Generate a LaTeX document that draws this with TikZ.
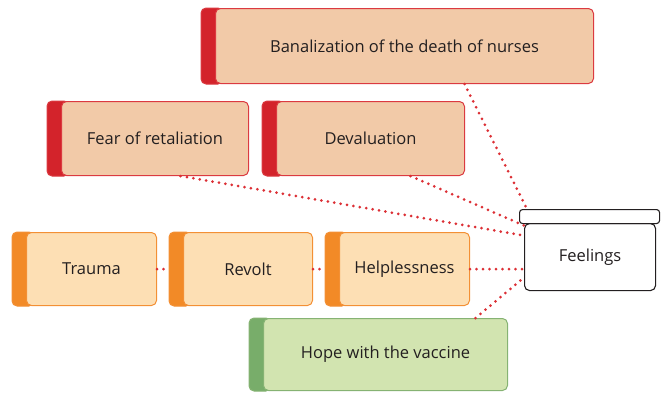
\documentclass[tikz,border=0pt]{standalone}
\usepackage{fontspec}
\setmainfont{Open Sans}
\usetikzlibrary{backgrounds}

\definecolor{redfill}{HTML}{F2CAA8}
\definecolor{redline}{HTML}{DB3A40}
\definecolor{redstrip}{HTML}{D3232B}
\definecolor{orangefill}{HTML}{FDDFB4}
\definecolor{orangeline}{HTML}{F39035}
\definecolor{orangestrip}{HTML}{F28A27}
\definecolor{greenfill}{HTML}{D2E4B0}
\definecolor{greenline}{HTML}{86B373}
\definecolor{greenstrip}{HTML}{78AD6A}
\definecolor{dotred}{HTML}{DC2F35}
\definecolor{ink}{HTML}{231F20}

\tikzset{
  catbox/.style n args={4}{draw=#1, fill=#2, line width=1pt, rounded corners=5pt,
    anchor=north west, minimum width=#3, minimum height=#4, inner sep=0pt,
    text=ink, font=\fontsize{16.5}{19}\selectfont},
  redbox/.style 2 args={catbox={redline}{redfill}{#1}{#2}},
  orangebox/.style 2 args={catbox={orangeline}{orangefill}{#1}{#2}},
  greenbox/.style 2 args={catbox={greenline}{greenfill}{#1}{#2}},
  lidbox/.style={draw=ink, fill=white, line width=1.1pt, rounded corners=3pt,
    anchor=north west, inner sep=0pt},
  link/.style={draw=dotred, line width=3pt, line cap=round, dash pattern=on 0pt off 6.5pt}
}

\begin{document}
\begin{tikzpicture}[x=1pt,y=-1pt]
  \useasboundingbox (0,0) rectangle (661,392);

  % category boxes
  \node[redbox={378pt}{75pt}] (banal) at (215,8) {Banalization of the death of nurses};
  \node[redbox={187pt}{74pt}] (fear) at (61,101) {Fear of retaliation};
  \node[redbox={188pt}{74pt}] (deval) at (276,101) {Devaluation};
  \node[orangebox={130pt}{73pt}] (trauma) at (26,232) {Trauma};
  \node[orangebox={129pt}{73pt}] (revolt) at (183,232) {Revolt};
  \node[orangebox={130pt}{73pt}] (help) at (339,232) {Helplessness};
  \node[greenbox={244pt}{72pt}] (hope) at (263,318) {Hope with the vaccine};

  % feelings box with its lid
  \node[lidbox, minimum width=131pt, minimum height=67pt, font=\fontsize{16.5}{19}\selectfont,
    text=ink, rounded corners=5pt] (feel) at (524,223) {Feelings};
  \node[lidbox, minimum width=140pt, minimum height=14pt] (lid) at (519,209) {};

  % coloured strips on the left
  \begin{scope}[on background layer]
    \foreach \n/\c in {banal/red, fear/red, deval/red, trauma/orange, revolt/orange,
                       help/orange, hope/green}
      \filldraw[fill=\c strip, draw=\c line, line width=1pt, rounded corners=5pt]
        ([xshift=-14pt]\n.south west) rectangle ([xshift=8pt]\n.north west);
  \end{scope}

  % links
  \draw[link] ([xshift=60pt]banal.south) -- ([xshift=8pt]lid.north west);
  \draw[link] ([xshift=40pt]deval.south) -- ([yshift=31.5pt]feel.west);
  \draw[link] ([xshift=25.5pt]fear.south) -- ([yshift=21.5pt]feel.west);
  \draw[link] (trauma.east) -- ([xshift=-14pt]revolt.west);
  \draw[link] (revolt.east) -- ([xshift=-14pt]help.west);
  \draw[link] (help.east) -- (help.east -| feel.west);
  \draw[link] ([xshift=90pt]hope.north) -- ([yshift=-20.5pt]feel.west);
\end{tikzpicture}
\end{document}
